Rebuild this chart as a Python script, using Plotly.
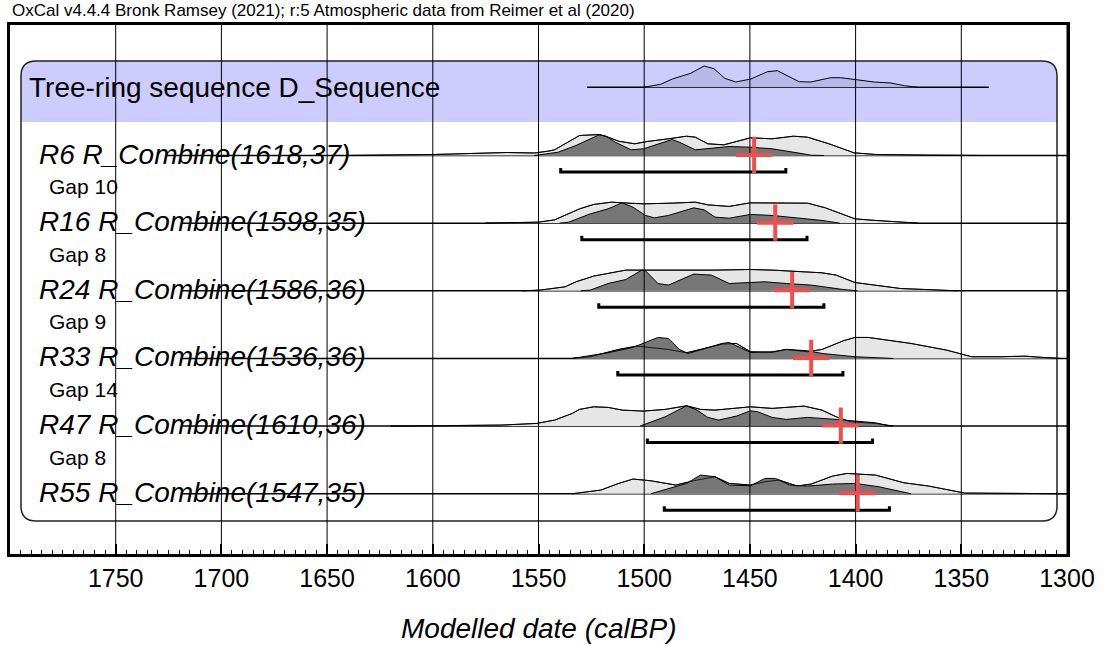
import plotly.graph_objects as go

# ---------------------------------------------------------------------------
# Data
# ---------------------------------------------------------------------------
HEADER = "OxCal v4.4.4 Bronk Ramsey (2021); r:5 Atmospheric data from Reimer et al (2020)"
SEQ_LABEL = "Tree-ring sequence D_Sequence"
AXIS_TITLE = "Modelled date (calBP)"

ROW_LABELS = [
    "R6 R_Combine(1618,37)",
    "R16 R_Combine(1598,35)",
    "R24 R_Combine(1586,36)",
    "R33 R_Combine(1536,36)",
    "R47 R_Combine(1610,36)",
    "R55 R_Combine(1547,35)",
]
GAP_LABELS = ["Gap 10", "Gap 8", "Gap 9", "Gap 14", "Gap 8"]

TICK_YEARS = [1750, 1700, 1650, 1600, 1550, 1500, 1450, 1400, 1350, 1300]
MINOR_STEP = 5

# Sequence (D_Sequence) distribution
SEQ_YEARS = [1500.3, 1492.2, 1486.7, 1478.0, 1471.7, 1467.0, 1461.9, 1456.7, 1449.6, 1441.7,
             1437.0, 1426.7, 1421.2, 1411.7, 1407.0, 1399.9, 1391.2, 1383.3, 1377.0, 1370.7]
SEQ_PROB = [0, 3, 8.3, 14, 21.3, 18.6, 9, 5.3, 8.3, 15.6,
            16.6, 5.6, 5.3, 9.6, 9.6, 7.6, 5.3, 4.3, 1.6, 0]
SEQ_LINE_FROM, SEQ_LINE_TO = 1527, 1337

# Unmodelled (likelihood) and modelled (posterior) distributions, relative probability
R6_UNMOD_YR = [1640, 1600, 1565, 1552, 1545, 1542.4, 1530.6, 1521.3, 1517.1, 1512.1, 1504.5, 1498.6,
               1488.5, 1480.0, 1475.8, 1469.9, 1462.3, 1449.7, 1439.5, 1429.4, 1422.7, 1412.6,
               1400.8, 1390.6, 1365.4, 1340]
R6_UNMOD_P = [0, 1, 3, 2.5, 4.5, 5.7, 20, 21, 18.3, 14.3, 11.7, 14,
              16.7, 19.3, 18.3, 11.7, 10.7, 17.7, 16.7, 19.3, 18.3, 11.7,
              2.7, 1, 0.3, 0]
R6_MOD_YR = [1552, 1540.7, 1532.3, 1521.3, 1518.0, 1513.7, 1506.2, 1500.3, 1486.8, 1483.4, 1475.8,
             1466.5, 1459.8, 1449.7, 1439.5, 1427.7, 1421.0, 1415]
R6_MOD_P = [0, 3.3, 10, 20.7, 19.3, 13.3, 5.7, 6.7, 16, 13.3, 5.7,
            7.3, 9, 8.3, 6.7, 2.7, 0.3, 0]

R16_UNMOD_YR = [1575, 1550, 1542.4, 1534.0, 1530.6, 1523.9, 1515.4, 1510.4, 1500.3, 1486.8, 1475.8,
                1469.9, 1459.8, 1450.0, 1441.2, 1422.7, 1414.3, 1400.3, 1390.6, 1377.2, 1370.4]
R16_UNMOD_P = [0, 1, 3.3, 11, 14.3, 18.7, 21, 20.3, 19.3, 20, 21,
               18.3, 16.7, 20.3, 20.3, 20, 15.3, 4.3, 2.7, 1, 0]
R16_MOD_YR = [1540, 1535.7, 1525.5, 1517.1, 1510.4, 1505.3, 1499.4, 1495.2, 1488.5, 1476.6, 1471.6,
              1466.5, 1459.8, 1449.7, 1439.5, 1427.7, 1415.9, 1407.5]
R16_MOD_P = [0, 1, 9.3, 14.3, 20.3, 16, 7.7, 5.3, 7.7, 15.3, 13.3,
             6, 5, 8.7, 7.7, 5.3, 2.7, 0]

R24_UNMOD_YR = [1557.6, 1549.2, 1537.4, 1532.3, 1523.9, 1513.7, 1508.7, 1500.3, 1486.8, 1476.6,
                1466.5, 1450.0, 1439.5, 1415.9, 1409.2, 1400.3, 1390.6, 1378.8, 1351.9]
R24_UNMOD_P = [0, 0.7, 4, 9, 14.7, 19, 20.7, 20.7, 20.7, 20,
               20.7, 21.3, 20.7, 18, 15.7, 8.3, 5.7, 2.3, 0]
R24_MOD_YR = [1530, 1525.5, 1517.1, 1508.7, 1501.1, 1499.4, 1493.5, 1488.5, 1476.6, 1468.2,
              1459.8, 1449.7, 1442.9, 1432.8, 1421.0, 1405.8, 1399.1]
R24_MOD_P = [0, 0.7, 7.3, 11.3, 20.7, 20, 7.3, 5.7, 16.7, 15.7,
             7.3, 8, 9, 7.3, 5.7, 1.3, 0]

R33_UNMOD_YR = [1534, 1525.5, 1512.1, 1503.6, 1488.5, 1480.0, 1473.3, 1463.2, 1456.4, 1449.7,
                1439.5, 1432.8, 1422.7, 1415.9, 1405.8, 1400.3, 1394.0, 1382.2, 1373.8, 1356.9,
                1345.1, 1331.6, 1319.8, 1311.4, 1303.3]
R33_UNMOD_P = [0, 1.7, 9, 12.3, 9, 5.7, 9, 14.3, 15, 6.7,
               6, 9, 6.7, 9, 17.7, 21, 21, 17.7, 15, 8.3,
               1.7, 1.7, 2.3, 1, 0]
R33_MOD_YR = [1534, 1517.1, 1505.3, 1500.3, 1493.5, 1488.5, 1483.4, 1479.2, 1471.6, 1463.2,
              1459.8, 1449.7, 1439.5, 1432.8, 1422.7, 1415.9, 1400.3, 1382.2]
R33_MOD_P = [0, 5.7, 11, 15, 21, 20, 9, 5, 10, 15,
             16, 6, 6.7, 9, 7.7, 5, 1.7, 0]

R47_UNMOD_YR = [1620, 1600, 1567.7, 1550.8, 1542.4, 1534.0, 1530.6, 1523.9, 1517.1, 1510.4,
                1500.3, 1490.1, 1480.0, 1473.3, 1466.5, 1449.7, 1439.5, 1424.4, 1415.9, 1409.2,
                1402.5, 1390.6, 1382.2]
R47_UNMOD_P = [0, 0.3, 1, 2.7, 6, 12.7, 16.7, 19.3, 18.7, 16,
               15, 16.7, 20.3, 16.7, 16, 19.3, 17.7, 20, 16, 9.3,
               4.3, 2.7, 0]
R47_MOD_YR = [1502, 1498.6, 1490.1, 1480.0, 1475.0, 1469.9, 1464.8, 1456.4, 1449.7, 1446.3,
              1439.5, 1432.8, 1422.7, 1409.2, 1400.3, 1390.6, 1383.9]
R47_MOD_P = [0, 2.7, 9.3, 20.3, 16, 8.7, 6, 10, 15.3, 14.3,
             8.7, 6.7, 8.7, 6.7, 5, 3.3, 0]

R55_UNMOD_YR = [1534, 1520.5, 1512.1, 1505.3, 1496.9, 1485.1, 1475.0, 1466.5, 1459.8, 1449.7,
                1442.9, 1436.2, 1427.7, 1421.0, 1410.9, 1404.1, 1390.6, 1377.2, 1365.4, 1348.5,
                1320, 1300]
R55_UNMOD_P = [0, 3.7, 10.3, 14.7, 13, 8.7, 13.7, 17, 10.3, 8.7,
               12, 13.7, 7.7, 9.7, 17.7, 20.3, 18.7, 11, 7.7, 0.7,
               0.3, 0]
R55_MOD_YR = [1496.9, 1488.5, 1480.0, 1473.3, 1466.5, 1459.8, 1449.7, 1442.9, 1437.9, 1431.1,
              1422.7, 1410.9, 1400.3, 1389.0, 1377.2, 1373.8]
R55_MOD_P = [0, 5.3, 10.3, 18.7, 17, 8.7, 8, 15.3, 15.3, 8.7,
             7.7, 9.7, 10.3, 7, 1, 0]

UNMOD_YEARS = [R6_UNMOD_YR, R16_UNMOD_YR, R24_UNMOD_YR, R33_UNMOD_YR, R47_UNMOD_YR, R55_UNMOD_YR]
UNMOD_PROBS = [R6_UNMOD_P, R16_UNMOD_P, R24_UNMOD_P, R33_UNMOD_P, R47_UNMOD_P, R55_UNMOD_P]
MOD_YEARS = [R6_MOD_YR, R16_MOD_YR, R24_MOD_YR, R33_MOD_YR, R47_MOD_YR, R55_MOD_YR]
MOD_PROBS = [R6_MOD_P, R16_MOD_P, R24_MOD_P, R33_MOD_P, R47_MOD_P, R55_MOD_P]

MEAN_YEARS = [1448, 1438, 1430, 1421, 1407, 1399]
RANGE_FROM = [1539.5, 1529.5, 1521.5, 1512.5, 1498.5, 1490.5]
RANGE_TO = [1433, 1423, 1415, 1406, 1392, 1384]
LINE_FROM = [1726, 1719, 1719, 1719, 1719, 1719]

# ---------------------------------------------------------------------------
# Layout constants (pixels)
# ---------------------------------------------------------------------------
W, H = 1104, 646
X_LEFT_PX, X_RIGHT_PX = 10, 1067
Y_TOP_PX, Y_BOT_PX = 25, 554
YEAR_LEFT, YEAR_RIGHT = 1800, 1300
ROW_Y0, ROW_STEP = 155.5, 67.65
SEQ_Y = 87.3
P_SCALE = 1.0          # pixels per unit of relative probability
BRACKET_OFFSET = 16.5
BRACKET_TICK = 4

FONT = "Liberation Sans, Arial, Helvetica, sans-serif"
LIGHT = "#e6e6e6"
DARK = "#777777"
SEQ_FILL = "#b8b8e6"
BAND = "#ccccff"
RED = "#f04e4e"


def px_to_year(px):
    return YEAR_LEFT + (px - X_LEFT_PX) * (YEAR_RIGHT - YEAR_LEFT) / (X_RIGHT_PX - X_LEFT_PX)


def paper_x(px):
    return (px - X_LEFT_PX) / (X_RIGHT_PX - X_LEFT_PX)


def paper_y(py):
    return (Y_BOT_PX - py) / (Y_BOT_PX - Y_TOP_PX)


def curve(years, probs, base):
    return list(years), [base - p * P_SCALE for p in probs]


fig = go.Figure()

# ---- rounded panel with the sequence band ----------------------------------
BOX_L, BOX_R, BOX_T, BOX_B, BOX_RAD = 21, 1057, 61, 521, 15
BAND_B = 122


def pt(px, py):
    return f"{px_to_year(px):.3f},{py:.2f}"


band_path = (f"M {pt(BOX_L, BAND_B)} L {pt(BOX_L, BOX_T + BOX_RAD)} "
             f"Q {pt(BOX_L, BOX_T)} {pt(BOX_L + BOX_RAD, BOX_T)} "
             f"L {pt(BOX_R - BOX_RAD, BOX_T)} Q {pt(BOX_R, BOX_T)} {pt(BOX_R, BOX_T + BOX_RAD)} "
             f"L {pt(BOX_R, BAND_B)} Z")
box_path = (f"M {pt(BOX_L + BOX_RAD, BOX_T)} L {pt(BOX_R - BOX_RAD, BOX_T)} "
            f"Q {pt(BOX_R, BOX_T)} {pt(BOX_R, BOX_T + BOX_RAD)} "
            f"L {pt(BOX_R, BOX_B - BOX_RAD)} Q {pt(BOX_R, BOX_B)} {pt(BOX_R - BOX_RAD, BOX_B)} "
            f"L {pt(BOX_L + BOX_RAD, BOX_B)} Q {pt(BOX_L, BOX_B)} {pt(BOX_L, BOX_B - BOX_RAD)} "
            f"L {pt(BOX_L, BOX_T + BOX_RAD)} Q {pt(BOX_L, BOX_T)} {pt(BOX_L + BOX_RAD, BOX_T)} Z")

fig.add_shape(type="path", path=band_path, xref="x", yref="y", layer="below",
              fillcolor=BAND, line=dict(width=0))
fig.add_shape(type="path", path=box_path, xref="x", yref="y", layer="below",
              fillcolor="rgba(0,0,0,0)", line=dict(color="#222222", width=1.5))

# ---- sequence distribution ---------------------------------------------------
fig.add_trace(go.Scatter(x=[SEQ_LINE_FROM, SEQ_LINE_TO], y=[SEQ_Y, SEQ_Y], mode="lines",
                         line=dict(color="black", width=1.5), hoverinfo="skip"))
sx, sy = curve(SEQ_YEARS, SEQ_PROB, SEQ_Y)
fig.add_trace(go.Scatter(x=sx, y=sy, mode="lines", fill="toself", fillcolor=SEQ_FILL,
                         line=dict(color="black", width=1), hoverinfo="skip"))

# ---- individual ring groups ---------------------------------------------------
for i in range(len(ROW_LABELS)):
    base = ROW_Y0 + i * ROW_STEP
    fig.add_trace(go.Scatter(x=[LINE_FROM[i], YEAR_RIGHT], y=[base, base], mode="lines",
                             line=dict(color="black", width=1.5), hoverinfo="skip"))
    ux, uy = curve(UNMOD_YEARS[i], UNMOD_PROBS[i], base)
    mx, my = curve(MOD_YEARS[i], MOD_PROBS[i], base)
    fig.add_trace(go.Scatter(x=ux, y=uy, mode="lines", fill="toself", fillcolor=LIGHT,
                             line=dict(color="black", width=1), hoverinfo="skip"))
    fig.add_trace(go.Scatter(x=mx, y=my, mode="lines", fill="toself", fillcolor=DARK,
                             line=dict(color="black", width=1), hoverinfo="skip"))
    fig.add_trace(go.Scatter(x=ux, y=uy, mode="lines",
                             line=dict(color="black", width=0.8), hoverinfo="skip"))

# ---- grid lines over the distributions ----------------------------------------
gx, gy = [], []
for t in TICK_YEARS:
    gx += [t, t, None]
    gy += [Y_TOP_PX, Y_BOT_PX, None]
fig.add_trace(go.Scatter(x=gx, y=gy, mode="lines", line=dict(color="black", width=1),
                         hoverinfo="skip"))

# ---- 95.4% ranges and means ----------------------------------------------------
for i in range(len(ROW_LABELS)):
    base = ROW_Y0 + i * ROW_STEP
    yb = base + BRACKET_OFFSET
    fig.add_trace(go.Scatter(x=[RANGE_FROM[i], RANGE_FROM[i], RANGE_TO[i], RANGE_TO[i]],
                             y=[yb - BRACKET_TICK, yb, yb, yb - BRACKET_TICK], mode="lines",
                             line=dict(color="black", width=3), hoverinfo="skip"))

fig.add_trace(go.Scatter(x=MEAN_YEARS,
                         y=[ROW_Y0 + i * ROW_STEP - 0.5 for i in range(len(MEAN_YEARS))],
                         mode="markers", hoverinfo="skip",
                         marker=dict(symbol="cross-thin", size=26,
                                     line=dict(color=RED, width=4))))

# ---- text ----------------------------------------------------------------------
ann = []
ann.append(dict(text=HEADER, x=paper_x(10), y=paper_y(11), xref="paper", yref="paper",
                xanchor="left", yanchor="middle", showarrow=False,
                font=dict(family=FONT, size=17, color="black")))
ann.append(dict(text=SEQ_LABEL, x=paper_x(27), y=paper_y(87.5), xref="paper", yref="paper",
                xanchor="left", yanchor="middle", showarrow=False,
                font=dict(family=FONT, size=28, color="black")))
for i, lab in enumerate(ROW_LABELS):
    base = ROW_Y0 + i * ROW_STEP
    ann.append(dict(text=f"<i>{lab}</i>", x=paper_x(37), y=paper_y(base - 1.5),
                    xref="paper", yref="paper", xanchor="left", yanchor="middle",
                    showarrow=False, font=dict(family=FONT, size=28, color="black")))
for i, lab in enumerate(GAP_LABELS):
    base = ROW_Y0 + i * ROW_STEP
    ann.append(dict(text=lab, x=paper_x(47), y=paper_y(base + 31),
                    xref="paper", yref="paper", xanchor="left", yanchor="middle",
                    showarrow=False, font=dict(family=FONT, size=21, color="black")))
ann.append(dict(text=f"<i>{AXIS_TITLE}</i>", x=0.5, y=paper_y(628), xref="paper", yref="paper",
                xanchor="center", yanchor="middle", showarrow=False,
                font=dict(family=FONT, size=28, color="black")))

minor_vals = [v for v in range(YEAR_RIGHT + MINOR_STEP, YEAR_LEFT, MINOR_STEP) if v % 50 != 0]

fig.update_layout(
    width=W, height=H,
    margin=dict(l=X_LEFT_PX, r=W - X_RIGHT_PX, t=Y_TOP_PX, b=H - Y_BOT_PX, pad=0),
    paper_bgcolor="white", plot_bgcolor="white",
    showlegend=False,
    annotations=ann,
    xaxis=dict(range=[YEAR_LEFT, YEAR_RIGHT], tickmode="array", tickvals=TICK_YEARS,
               ticktext=[str(t) for t in TICK_YEARS], ticks="inside", ticklen=10,
               tickwidth=2, tickcolor="black", showgrid=False, zeroline=False,
               showline=True, linecolor="black", linewidth=3, mirror=True,
               tickfont=dict(family=FONT, size=25, color="black"),
               minor=dict(tickmode="array", tickvals=minor_vals, ticks="inside",
                          ticklen=4, tickwidth=1, tickcolor="black", showgrid=False)),
    yaxis=dict(range=[Y_BOT_PX, Y_TOP_PX], showticklabels=False, ticks="", showgrid=False,
               zeroline=False, showline=True, linecolor="black", linewidth=3, mirror=True),
)

fig.write_html("out.html")
